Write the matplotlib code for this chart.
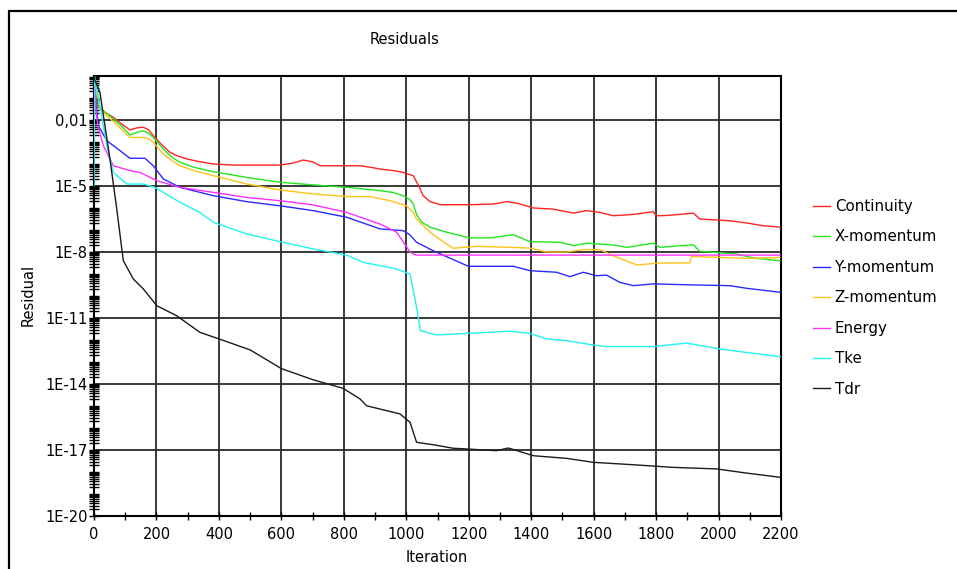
import matplotlib.pyplot as plt
import numpy as np
from matplotlib.ticker import FixedLocator, FuncFormatter, NullFormatter
from matplotlib.patches import Rectangle

plt.rcParams['font.family'] = ['DejaVu Sans']

# residual history: iteration, log10(residual)
cont_it = [0, 9, 30, 62, 90, 115, 140, 158, 175, 190, 215, 243, 270, 297, 340, 382, 450, 520, 596, 640, 670, 700, 724, 800, 852, 894, 916, 958, 990, 1022, 1040, 1054, 1075, 1108, 1204, 1280, 1321, 1360, 1407, 1470, 1535, 1577, 1620, 1663, 1720, 1791, 1800, 1820, 1870, 1919, 1940, 2000, 2036, 2090, 2140, 2197]
cont_log = [0, -1.35, -1.6, -1.88, -2.2, -2.45, -2.35, -2.33, -2.45, -2.71, -3.1, -3.47, -3.65, -3.77, -3.9, -4.0, -4.05, -4.05, -4.05, -3.95, -3.82, -3.9, -4.08, -4.08, -4.08, -4.17, -4.23, -4.3, -4.38, -4.53, -5.0, -5.44, -5.7, -5.85, -5.85, -5.82, -5.71, -5.8, -6.0, -6.05, -6.23, -6.12, -6.2, -6.35, -6.3, -6.17, -6.35, -6.35, -6.3, -6.23, -6.5, -6.55, -6.58, -6.68, -6.8, -6.87]

xmom_it = [0, 9, 40, 62, 90, 115, 140, 158, 175, 190, 222, 250, 275, 320, 382, 489, 596, 702, 809, 916, 960, 990, 1010, 1022, 1033, 1050, 1076, 1129, 1204, 1268, 1343, 1396, 1492, 1535, 1577, 1663, 1706, 1791, 1812, 1919, 1940, 2057, 2111, 2197]
xmom_log = [0, -1.35, -1.7, -1.95, -2.3, -2.68, -2.55, -2.49, -2.6, -2.79, -3.32, -3.7, -3.92, -4.15, -4.35, -4.61, -4.83, -4.95, -5.06, -5.21, -5.3, -5.44, -5.6, -5.8, -6.3, -6.65, -6.87, -7.1, -7.36, -7.36, -7.21, -7.53, -7.56, -7.71, -7.6, -7.68, -7.79, -7.6, -7.79, -7.67, -7.97, -8.09, -8.27, -8.4]

ymom_it = [0, 3, 14, 41, 83, 115, 163, 190, 222, 275, 382, 489, 596, 702, 809, 916, 990, 1010, 1033, 1086, 1199, 1343, 1396, 1481, 1524, 1567, 1609, 1641, 1684, 1727, 1791, 1930, 2036, 2090, 2197]
ymom_log = [0, -0.74, -2.26, -2.94, -3.39, -3.74, -3.74, -4.08, -4.68, -5.06, -5.44, -5.71, -5.9, -6.12, -6.42, -6.95, -7.03, -7.2, -7.56, -7.94, -8.65, -8.65, -8.85, -8.92, -9.12, -8.92, -9.08, -9.05, -9.38, -9.53, -9.45, -9.5, -9.53, -9.65, -9.83]

zmom_it = [0, 5, 9, 19, 40, 62, 90, 115, 140, 158, 175, 190, 222, 250, 275, 320, 382, 489, 596, 702, 809, 884, 948, 1001, 1022, 1033, 1076, 1129, 1150, 1225, 1396, 1449, 1514, 1567, 1620, 1663, 1738, 1812, 1908, 1914, 2090, 2197]
zmom_log = [0, -0.5, -0.74, -1.5, -1.8, -2.06, -2.45, -2.79, -2.8, -2.79, -2.85, -3.02, -3.55, -3.85, -4.08, -4.3, -4.53, -4.91, -5.18, -5.36, -5.48, -5.48, -5.67, -5.9, -6.2, -6.5, -7.1, -7.64, -7.83, -7.74, -7.82, -8.0, -8.0, -7.89, -7.89, -8.17, -8.59, -8.5, -8.5, -8.2, -8.29, -8.25]

energy_it = [0, 3, 6, 12, 30, 62, 115, 147, 201, 275, 382, 489, 596, 702, 809, 916, 969, 1012, 1030, 1500, 2197]
energy_log = [0, -0.44, -1.5, -2.26, -3.17, -4.08, -4.3, -4.38, -4.76, -5.06, -5.29, -5.52, -5.67, -5.86, -6.2, -6.73, -7.1, -8.0, -8.14, -8.14, -8.14]

tke_it = [0, 2, 19, 41, 62, 105, 158, 195, 222, 275, 339, 382, 489, 596, 702, 809, 862, 969, 1012, 1028, 1046, 1097, 1193, 1332, 1396, 1449, 1513, 1599, 1642, 1791, 1898, 2004, 2197]
tke_log = [-5, 0, -1.35, -3.17, -4.38, -4.91, -4.91, -5.06, -5.29, -5.74, -6.2, -6.65, -7.18, -7.53, -7.86, -8.14, -8.47, -8.77, -9.0, -10.14, -11.58, -11.77, -11.7, -11.6, -11.7, -11.95, -12.03, -12.23, -12.3, -12.3, -12.14, -12.41, -12.76]

tdr_it = [0, 3, 19, 51, 73, 89, 94, 126, 158, 201, 265, 339, 400, 500, 600, 660, 700, 798, 852, 873, 980, 1012, 1033, 1086, 1150, 1289, 1327, 1407, 1513, 1599, 1727, 1855, 1994, 2090, 2197]
tdr_log = [0, -0.2, -0.74, -3.77, -6.05, -7.86, -8.4, -9.23, -9.68, -10.44, -10.9, -11.65, -11.95, -12.45, -13.3, -13.6, -13.8, -14.2, -14.68, -14.99, -15.36, -15.74, -16.65, -16.76, -16.92, -17.03, -16.91, -17.26, -17.38, -17.56, -17.67, -17.79, -17.86, -18.05, -18.24]

names = ['Continuity', 'X-momentum', 'Y-momentum', 'Z-momentum', 'Energy', 'Tke', 'Tdr']
colors = ['#ff2424', '#22e622', '#2a2aff', '#ffc21a', '#ff30ff', '#22f2f2', '#1a1a1a']
series = [(cont_it, cont_log), (xmom_it, xmom_log), (ymom_it, ymom_log), (zmom_it, zmom_log),
          (energy_it, energy_log), (tke_it, tke_log), (tdr_it, tdr_log)]

fig = plt.figure(figsize=(9.57, 5.69), dpi=100)
ax = fig.add_axes([94/957, 1 - 516/569, (781 - 94)/957, (516 - 76)/569])

for (it, lg), name, c in zip(series, names, colors):
    ax.plot(it, 10.0 ** np.array(lg), color=c, lw=1.0, label=name, zorder=3)

ax.set_yscale('log')
ax.set_xlim(0, 2200)
ax.set_ylim(1e-20, 1)

major_y = [10.0 ** e for e in range(-20, 0, 3)]
minor_y = [k * 10.0 ** e for e in range(-20, 0) for k in range(1, 10) if not (k == 1 and (e + 20) % 3 == 0)]
ax.yaxis.set_major_locator(FixedLocator(major_y))
ax.yaxis.set_minor_locator(FixedLocator(minor_y))

def fmt(v, pos):
    e = int(round(np.log10(v)))
    if e == -2:
        return '0,01'
    return '1E%d' % e

ax.yaxis.set_major_formatter(FuncFormatter(fmt))
ax.yaxis.set_minor_formatter(NullFormatter())
ax.xaxis.set_major_locator(FixedLocator(range(0, 2201, 200)))
ax.xaxis.set_minor_locator(FixedLocator(range(100, 2200, 200)))
ax.xaxis.set_minor_formatter(NullFormatter())

ax.grid(True, which='major', color='#2a2a2a', lw=1.3, zorder=1)
ax.tick_params(which='both', direction='inout', color='black', labelsize=10.5)
ax.tick_params(axis='y', which='major', length=7, width=1, pad=1)
ax.tick_params(axis='y', which='minor', length=7, width=1)
ax.tick_params(axis='x', which='major', length=6, width=1, pad=5)
ax.tick_params(axis='x', which='minor', length=6, width=1)
for s in ax.spines.values():
    s.set_linewidth(1.5)
    s.set_color('black')

fig.text(405/957, 1 - 40/569, 'Residuals', ha='center', va='center', fontsize=10.5)
fig.text(437/957, 1 - 557/569, 'Iteration', ha='center', va='center', fontsize=10.5)
fig.text(28/957, 1 - 295/569, 'Residual', ha='center', va='center', rotation=90, fontsize=10.5)

ax.legend(loc='upper left', bbox_to_anchor=(813/957, 1 - 199/569), bbox_transform=fig.transFigure,
          frameon=False, fontsize=10.8, borderaxespad=0, borderpad=0, handlelength=1.15,
          handletextpad=0.3, labelspacing=1.03)

fig.patches.append(Rectangle((9/957, -0.1), 1.1, 1 - 11/569 + 0.1, transform=fig.transFigure,
                             fill=False, edgecolor='black', lw=1.6))

fig.savefig('out.png', dpi=100)
